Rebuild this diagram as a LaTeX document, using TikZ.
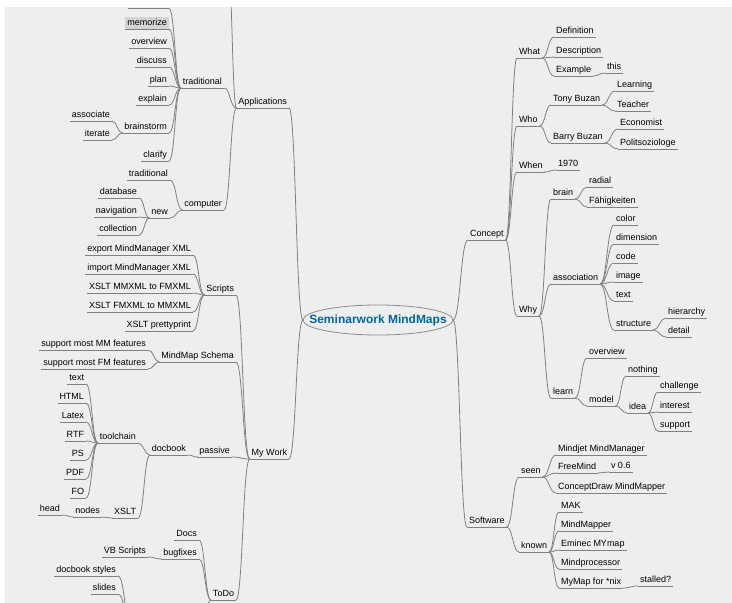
\documentclass[tikz,border=0pt]{standalone}
\usepackage{fontspec}
\setmainfont{Liberation Sans}
\usetikzlibrary{calc,shapes.geometric}
\definecolor{bgc}{RGB}{238,238,238}
\definecolor{linec}{RGB}{128,128,128}
\definecolor{rootc}{RGB}{0,102,153}
\definecolor{selc}{RGB}{212,212,212}
\newcommand\myR[2]{\draw[lnk] (#1.south east) to[fork] (#2.south west);}
\newcommand\myL[2]{\draw[lnk] (#1.south west) to[fork] (#2.south east);}
\begin{document}
\begin{tikzpicture}[x=1pt,y=-1pt,
  ul/.style={draw=linec, line width=0.8pt},
  lnk/.style={draw=linec, line width=0.8pt},
  nd/.style={font=\fontsize{9}{10}\selectfont, inner xsep=2pt, inner ysep=1.5pt,
    text height=6.8pt, text depth=2pt, outer sep=0pt,
    append after command={(\tikzlastnode.south west) edge[ul] (\tikzlastnode.south east)}},
  R/.style={nd, anchor=south west},
  L/.style={nd, anchor=south east},
  fork/.style={to path={let \p1=(\tikztostart), \p2=(\tikztotarget) in
    .. controls ({(\x1+\x2)/2},\y1) and ({(\x1+\x2)/2},\y2) .. (\tikztotarget)}},
  rootshape/.style={ellipse, draw=linec!90, line width=0.8pt, minimum width=150pt,
    minimum height=30pt, inner sep=0pt, outer sep=0pt},
  roottext/.style={text=rootc, inner sep=0pt, font=\fontsize{12}{14}\selectfont\bfseries}
]
\useasboundingbox (0,0) rectangle (732,603);
\fill[white] (0,0) rectangle (732,603);
\fill[bgc] (5,7) rectangle (732,603);
\begin{scope}
\clip (5,7) rectangle (732,603);
% root
\node[rootshape] (root) at (378,320) {};
\node[roottext] (roottxt) at (378,320) {Seminarwork MindMaps};
% ---------- left side ----------
\node[L] (app) at (289,108) {Applications};
\node[L] (trad) at (224,88) {traditional};
\node[L,fill=selc] (memo) at (169,29) {memorize};
\node[L] (ovw) at (169,48) {overview};
\node[L] (disc) at (169,67) {discuss};
\node[L] (plan) at (169,86) {plan};
\node[L] (expl) at (169,105) {explain};
\node[L] (brst) at (169,133) {brainstorm};
\node[L] (assoc) at (112,121) {associate};
\node[L] (iter) at (112,140) {iterate};
\node[L] (clar) at (169,161) {clarify};
\node[L] (comp) at (224,210) {computer};
\node[L] (trad2) at (170,180) {traditional};
\node[L] (new) at (170,218) {new};
\node[L] (db) at (139,198) {database};
\node[L] (nav) at (139,217) {navigation};
\node[L] (coll) at (139,235) {collection};
\node[L] (mywork) at (289,459) {My Work};
\node[L] (scripts) at (236,295) {Scripts};
\node[L] (exp) at (193,255) {export MindManager XML};
\node[L] (imp) at (193,274) {import MindManager XML};
\node[L] (xa) at (193,293) {XSLT MMXML to FMXML};
\node[L] (xb) at (193,312) {XSLT FMXML to MMXML};
\node[L] (xpp) at (193,331) {XSLT prettyprint};
\node[L] (schema) at (236,362) {MindMap Schema};
\node[L] (smm) at (148,350) {support most MM features};
\node[L] (sfm) at (148,369) {support most FM features};
\node[L] (passive) at (232,457) {passive};
\node[L] (docbook) at (188,455) {docbook};
\node[L] (tool) at (138,443) {toolchain};
\node[L] (ta) at (86,384) {text};
\node[L] (tb) at (86,403) {HTML};
\node[L] (tc) at (86,422) {Latex};
\node[L] (td) at (86,441) {RTF};
\node[L] (te) at (86,460) {PS};
\node[L] (tf) at (86,479) {PDF};
\node[L] (tg) at (86,498) {FO};
\node[L] (xslt) at (138,518) {XSLT};
\node[L] (nodes) at (102,517) {nodes};
\node[L] (head) at (62,515) {head};
\node[L] (todo) at (236,600) {ToDo};
\node[L] (docs) at (199,540) {Docs};
\node[L] (bugf) at (199,559) {bugfixes};
\node[L] (vbs) at (148,557) {VB Scripts};
\node[L] (dbs) at (118,576) {docbook styles};
\node[L] (slides) at (118,594) {slides};
\coordinate (offA) at (228,-30);
\coordinate (offT) at (169,8.5);
\coordinate (offTl) at (128,8.5);
\coordinate (offDin) at (132,630);
\coordinate (offDout) at (200,630);
\coordinate (offDc) at (118,614);
% ---------- right side ----------
\node[R] (concept) at (468,240) {Concept};
\node[R] (what) at (517,58) {What};
\node[R] (def) at (554,37) {Definition};
\node[R] (desc) at (554,57) {Description};
\node[R] (ex) at (554,76) {Example};
\node[R] (this) at (605,73) {this};
\node[R] (who) at (517,126) {Who};
\node[R] (tony) at (551,105) {Tony Buzan};
\node[R] (learning) at (615,91) {Learning};
\node[R] (teacher) at (615,111) {Teacher};
\node[R] (barry) at (551,143) {Barry Buzan};
\node[R] (econ) at (618,129) {Economist};
\node[R] (polit) at (618,149) {Politsoziologe};
\node[R] (when) at (517,172) {When};
\node[R] (year) at (556,170) {1970};
\node[R] (why) at (517,316) {Why};
\node[R] (brain) at (551,199) {brain};
\node[R] (radial) at (587,187) {radial};
\node[R] (faeh) at (587,207) {Fähigkeiten};
\node[R] (assocR) at (551,284) {association};
\node[R] (color) at (614,225) {color};
\node[R] (dim) at (614,244) {dimension};
\node[R] (code) at (614,263) {code};
\node[R] (image) at (614,282) {image};
\node[R] (textR) at (614,301) {text};
\node[R] (struct) at (614,330) {structure};
\node[R] (hier) at (666,318) {hierarchy};
\node[R] (detail) at (666,337) {detail};
\node[R] (learn) at (551,398) {learn};
\node[R] (ovwR) at (587,358) {overview};
\node[R] (model) at (587,406) {model};
\node[R] (nothing) at (626,376) {nothing};
\node[R] (idea) at (627,413) {idea};
\node[R] (chall) at (658,392) {challenge};
\node[R] (inter) at (658,412) {interest};
\node[R] (supp) at (658,431) {support};
\node[R] (software) at (467,527) {Software};
\node[R] (seen) at (519,477) {seen};
\node[R] (known) at (519,552) {known};
\node[R] (mindjet) at (556,455) {Mindjet MindManager};
\node[R] (freemind) at (556,473) {FreeMind};
\node[R] (vers) at (609,472) {v 0.6};
\node[R] (cdraw) at (556,493) {ConceptDraw MindMapper};
\node[R] (mak) at (559,512) {MAK};
\node[R] (mmapper) at (559,531) {MindMapper};
\node[R] (eminec) at (559,550) {Eminec MYmap};
\node[R] (mproc) at (559,569) {Mindprocessor};
\node[R] (mymap) at (559,588) {MyMap for *nix};
\node[R] (stalled) at (638,586) {stalled?};
% ---------- connectors ----------
\draw[lnk] (root.west) to[fork] (app.south east);
\draw[lnk] (root.west) to[fork] (mywork.south east);
\draw[lnk] (root.east) to[fork] (concept.south west);
\draw[lnk] (root.east) to[fork] (software.south west);
% left
\draw[lnk] (app.south west) to[fork] (offA);
\myL{app}{trad}\myL{app}{comp}
\draw[lnk] (trad.south west) to[fork] (offT);
\draw[ul] (offTl) -- (offT);
\myL{trad}{memo}\myL{trad}{ovw}\myL{trad}{disc}\myL{trad}{plan}
\myL{trad}{expl}\myL{trad}{brst}\myL{trad}{clar}
\myL{brst}{assoc}\myL{brst}{iter}
\myL{comp}{trad2}\myL{comp}{new}
\myL{new}{db}\myL{new}{nav}\myL{new}{coll}
\myL{mywork}{scripts}\myL{mywork}{schema}\myL{mywork}{passive}\myL{mywork}{todo}
\myL{scripts}{exp}\myL{scripts}{imp}\myL{scripts}{xa}\myL{scripts}{xb}\myL{scripts}{xpp}
\myL{schema}{smm}\myL{schema}{sfm}
\myL{passive}{docbook}
\myL{docbook}{tool}\myL{docbook}{xslt}
\myL{tool}{ta}\myL{tool}{tb}\myL{tool}{tc}\myL{tool}{td}\myL{tool}{te}\myL{tool}{tf}\myL{tool}{tg}
\myL{xslt}{nodes}\myL{nodes}{head}
\myL{todo}{docs}\myL{todo}{bugf}
\draw[lnk] (todo.south west) to[fork] (offDout);
\myL{bugf}{vbs}
\draw[lnk] (offDin) to[fork] (dbs.south east);
\draw[lnk] (offDin) to[fork] (slides.south east);
\draw[lnk] (offDin) to[fork] (offDc);
% right
\myR{concept}{what}\myR{concept}{who}\myR{concept}{when}\myR{concept}{why}
\myR{what}{def}\myR{what}{desc}\myR{what}{ex}\myR{ex}{this}
\myR{who}{tony}\myR{who}{barry}
\myR{tony}{learning}\myR{tony}{teacher}
\myR{barry}{econ}\myR{barry}{polit}
\myR{when}{year}
\myR{why}{brain}\myR{why}{assocR}\myR{why}{learn}
\myR{brain}{radial}\myR{brain}{faeh}
\myR{assocR}{color}\myR{assocR}{dim}\myR{assocR}{code}\myR{assocR}{image}\myR{assocR}{textR}\myR{assocR}{struct}
\myR{struct}{hier}\myR{struct}{detail}
\myR{learn}{ovwR}\myR{learn}{model}
\myR{model}{nothing}\myR{model}{idea}
\myR{idea}{chall}\myR{idea}{inter}\myR{idea}{supp}
\myR{software}{seen}\myR{software}{known}
\myR{seen}{mindjet}\myR{seen}{freemind}\myR{seen}{cdraw}
\myR{freemind}{vers}
\myR{known}{mak}\myR{known}{mmapper}\myR{known}{eminec}\myR{known}{mproc}\myR{known}{mymap}
\myR{mymap}{stalled}
\end{scope}
\end{tikzpicture}
\end{document}
